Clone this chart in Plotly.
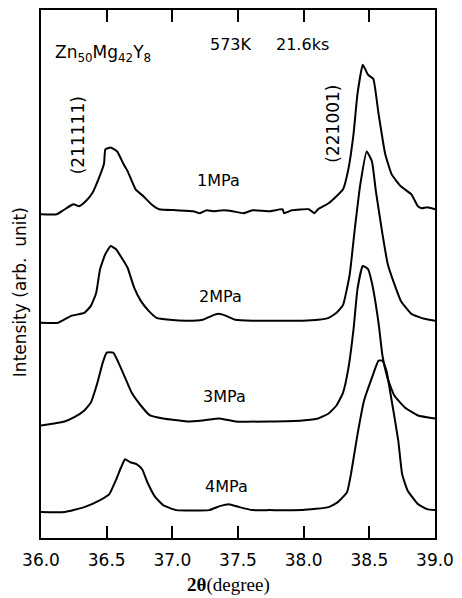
import plotly.graph_objects as go

# 2theta (degree) and relative intensity (arb. unit) for each pressure
t_1mpa = [36.00,36.12,36.17,36.23,36.25,36.29,36.34,36.39,36.44,36.48,
          36.49,36.53,36.58,36.63,36.66,36.72,36.78,36.84,36.90,37.03,
          37.16,37.21,37.26,37.31,37.39,37.46,37.54,37.61,37.74,37.84,
          37.85,37.91,38.04,38.08,38.11,38.19,38.25,38.30,38.34,38.38,
          38.41,38.45,38.49,38.53,38.57,38.62,38.67,38.74,38.82,38.87,
          38.90,38.94,39.00]
i_1mpa = [0,0,4,9,10,8,13,21,36,51,
          65,67,63,50,43,25,18,10,5,4,
          3,1,4,3,4,3,1,4,3,5,
          1,4,5,1,5,11,18,25,45,81,
          121,150,140,136,101,61,40,28,20,8,
          6,7,5]

t_2mpa = [36.00,36.13,36.23,36.33,36.38,36.42,36.45,36.49,36.53,36.57,
          36.62,36.66,36.71,36.76,36.82,36.88,36.98,37.11,37.23,37.30,
          37.35,37.41,37.48,37.61,37.74,37.86,37.99,38.11,38.19,38.25,
          38.30,38.35,38.39,38.43,38.48,38.52,38.55,38.60,38.64,38.69,
          38.74,38.82,38.92,39.00]
i_2mpa = [0,0,7,10,17,30,54,69,77,74,
          64,55,35,22,12,5,3,2,3,7,
          9,7,3,2,2,2,2,3,5,10,
          18,48,95,138,172,162,132,89,59,39,
          22,9,4,2]

t_3mpa = [36.00,36.10,36.18,36.25,36.33,36.38,36.43,36.47,36.50,36.55,
          36.59,36.64,36.69,36.76,36.83,36.93,37.11,37.23,37.36,37.48,
          37.74,37.99,38.11,38.19,38.25,38.30,38.34,38.38,38.41,38.45,
          38.49,38.52,38.57,38.60,38.64,38.69,38.77,38.87,39.00]
i_3mpa = [0,2,4,8,15,23,43,63,73,73,
          63,48,33,20,10,7,4,5,7,4,
          4,5,7,12,20,33,57,97,137,160,
          157,143,103,70,47,30,18,10,7]

t_4mpa = [36.00,36.18,36.33,36.45,36.52,36.57,36.61,36.64,36.68,36.73,
          36.77,36.81,36.87,36.93,37.03,37.28,37.36,37.43,37.51,37.61,
          37.74,37.99,38.19,38.26,38.33,38.36,38.41,38.46,38.52,38.57,
          38.60,38.63,38.67,38.72,38.75,38.79,38.87,38.94,39.00]
i_4mpa = [0,0,5,12,18,32,45,53,50,48,
          43,30,15,7,2,2,6,8,5,2,
          2,2,5,10,20,38,78,112,135,152,
          152,142,112,72,38,22,8,3,2]

offsets = [325, 216, 113, 26]
series = [(t_1mpa, i_1mpa), (t_2mpa, i_2mpa), (t_3mpa, i_3mpa), (t_4mpa, i_4mpa)]
labels = ["1MPa", "2MPa", "3MPa", "4MPa"]

x_ticks = [36.0, 36.5, 37.0, 37.5, 38.0, 38.5, 39.0]
x_ticklabels = ["36.0", "36.5", "37.0", "37.5", "38.0", "38.5", "39.0"]

fig = go.Figure()
for (t, i), off, name in zip(series, offsets, labels):
    fig.add_trace(go.Scatter(x=t, y=[v + off for v in i], mode="lines",
                             line=dict(color="black", width=2, shape="spline", smoothing=0.4),
                             name=name, showlegend=False))

sans = "DejaVu Sans"
ann = []
def add(text, x, y, size=16, angle=0, xanchor="center", family=sans):
    ann.append(dict(text=text, x=x, y=y, xref="paper", yref="paper",
                    showarrow=False, textangle=angle, xanchor=xanchor,
                    yanchor="middle", font=dict(family=family, size=size, color="black")))

add("Zn<sub>50</sub>Mg<sub>42</sub>Y<sub>8</sub>", 0.030, 0.918, size=17, xanchor="left")
add("573K", 0.482, 0.934)
add("21.6ks", 0.663, 0.934)
add("(211111)", 0.093, 0.762, size=17, angle=-90)
add("(221001)", 0.739, 0.785, size=17, angle=-90)
add("1MPa", 0.450, 0.677)
add("2MPa", 0.455, 0.457)
add("3MPa", 0.467, 0.268)
add("4MPa", 0.470, 0.098)
add("Intensity (arb.  unit)", -0.0528, 0.466, size=17, angle=-90)
add("<b>2θ</b>(degree)", 0.475, -0.0887, size=19, family="Liberation Serif")

fig.update_layout(
    width=462, height=598,
    margin=dict(l=41, r=23, t=8, b=60),
    paper_bgcolor="white", plot_bgcolor="white",
    annotations=ann,
    xaxis=dict(range=[36.0, 39.0], tickvals=x_ticks, ticktext=x_ticklabels,
               ticks="inside", ticklen=12, tickwidth=2, tickcolor="black",
               showline=True, linewidth=2, linecolor="black", mirror="ticks",
               showgrid=False, zeroline=False, ticklabelstandoff=6,
               tickfont=dict(family=sans, size=17, color="black")),
    yaxis=dict(range=[0, 530], showticklabels=False, ticks="",
               showline=True, linewidth=2, linecolor="black", mirror=True,
               showgrid=False, zeroline=False),
)

fig.write_html("out.html")
